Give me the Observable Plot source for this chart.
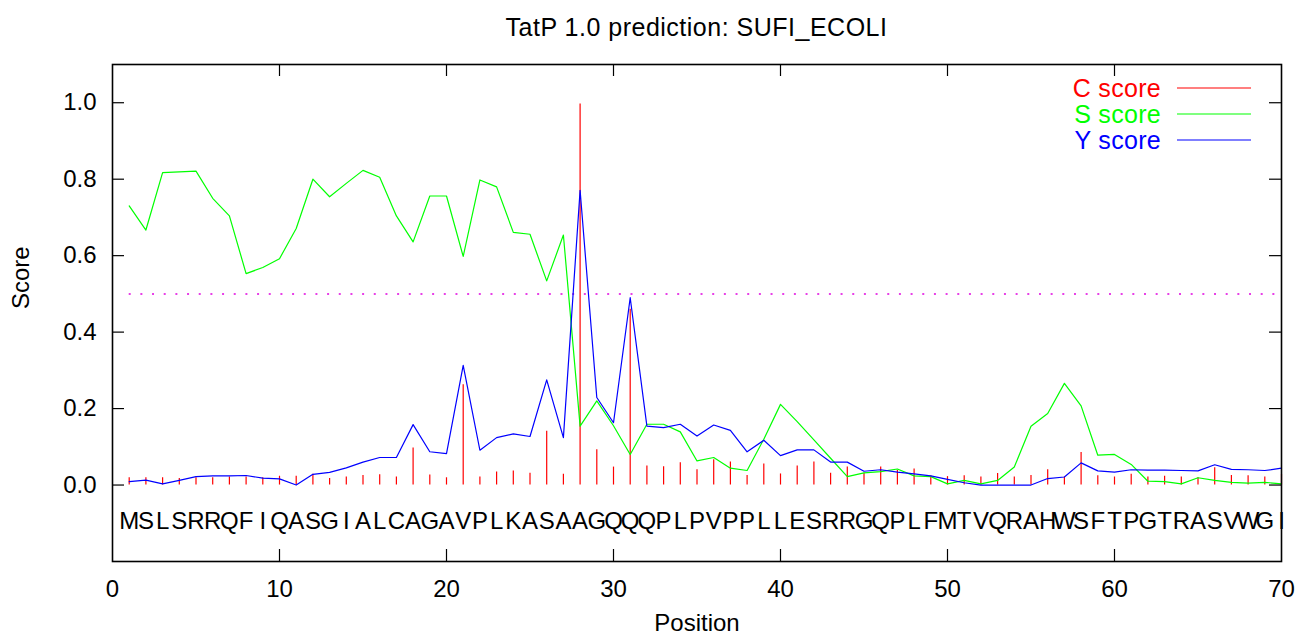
<!DOCTYPE html>
<html>
<head>
<meta charset="utf-8">
<script src="https://cdn.jsdelivr.net/npm/d3@7"></script>
<script src="https://cdn.jsdelivr.net/npm/@observablehq/plot@0.6"></script>
<style>
  body { margin: 0; background: #fff; font-family: "Liberation Sans", Arial, Helvetica, sans-serif; }
  #title { width: 1299px; height: 50px; line-height: 54px; font-size: 25px; letter-spacing: 0.5px; text-align: center;
           padding-left: 112px; padding-right: 18px; box-sizing: border-box; color: #000; overflow: hidden; }
</style>
</head>
<body>
<div id="title">TatP 1.0 prediction: SUFI_ECOLI</div>
<div id="chart"></div>
<script>
// ---- data ----
const sequence = "MSLSRRQFIQASGIALCAGAVPLKASAAGQQQPLPVPPLLESRRGQPLFMTVQRAHWSFTPGTRASVWGI".split("");
const positions = sequence.map((_, i) => i + 1);
const cScore = [
  0.019, 0.019, 0.019, 0.017, 0.019, 0.019, 0.021, 0.021, 0.019, 0.023,
  0.023, 0.028, 0.017, 0.021, 0.025, 0.027, 0.021, 0.097, 0.026, 0.019,
  0.262, 0.021, 0.034, 0.037, 0.031, 0.141, 0.028, 0.997, 0.092, 0.047,
  0.460, 0.050, 0.048, 0.058, 0.040, 0.066, 0.060, 0.025, 0.055, 0.029,
  0.050, 0.060, 0.031, 0.047, 0.031, 0.047, 0.038, 0.042, 0.024, 0.022,
  0.024, 0.021, 0.030, 0.021, 0.025, 0.040, 0.021, 0.085, 0.024, 0.021,
  0.028, 0.021, 0.023, 0.021, 0.019, 0.045, 0.025, 0.024, 0.021, 0.028
];
const sScore = [
  0.730, 0.667, 0.817, 0.819, 0.821, 0.750, 0.704, 0.553, 0.569, 0.592,
  0.671, 0.800, 0.754, 0.789, 0.823, 0.805, 0.704, 0.636, 0.756, 0.756,
  0.598, 0.798, 0.780, 0.661, 0.656, 0.534, 0.654, 0.154, 0.220, 0.155,
  0.080, 0.159, 0.159, 0.139, 0.063, 0.072, 0.044, 0.038, 0.120, 0.211,
  0.166, 0.118, 0.070, 0.022, 0.032, 0.035, 0.042, 0.024, 0.022, 0.003,
  0.012, 0.003, 0.012, 0.047, 0.154, 0.187, 0.266, 0.207, 0.078, 0.080,
  0.054, 0.010, 0.009, 0.003, 0.019, 0.012, 0.007, 0.005, 0.007, 0.003
];
const yScore = [
  0.009, 0.013, 0.003, 0.012, 0.022, 0.024, 0.024, 0.025, 0.018, 0.016,
  0.000, 0.028, 0.033, 0.045, 0.060, 0.072, 0.072, 0.158, 0.087, 0.082,
  0.313, 0.091, 0.124, 0.134, 0.127, 0.275, 0.124, 0.771, 0.229, 0.163,
  0.490, 0.154, 0.150, 0.159, 0.128, 0.157, 0.143, 0.087, 0.117, 0.077,
  0.092, 0.092, 0.060, 0.060, 0.036, 0.040, 0.034, 0.029, 0.024, 0.015,
  0.006, 0.000, 0.000, 0.000, 0.000, 0.017, 0.021, 0.058, 0.037, 0.034,
  0.040, 0.039, 0.039, 0.038, 0.037, 0.053, 0.041, 0.040, 0.038, 0.044
];
const xTicks = [0, 10, 20, 30, 40, 50, 60, 70];
const yTicks = [0.0, 0.2, 0.4, 0.6, 0.8, 1.0];
const cutoff = 0.5;
const seriesNames = ["C score", "S score", "Y score"];
const seriesColors = ["#ff0000", "#00ff00", "#0000ff"];

// ---- layout ----
const W = 1299, H = 584;
const mL = 112, mR = 18, mT = 14, mB = 73;
const innerW = W - mL - mR, innerH = H - mT - mB;
const tickLen = 12;

const rows = positions.map((p, i) => ({pos: p, c: cScore[i], s: sScore[i], y: yScore[i], aa: sequence[i]}));
const inner = xTicks.slice(1, -1);

const chart = Plot.plot({
  width: W, height: H,
  marginLeft: mL, marginRight: mR, marginTop: mT, marginBottom: mB,
  style: {fontSize: "24px", fontFamily: "'Liberation Sans', Arial, Helvetica, sans-serif", background: "white", color: "black", overflow: "visible"},
  x: {domain: [0, 70]},
  y: {domain: [-0.2, 1.1]},
  marks: [
    // threshold
    Plot.ruleY([cutoff], {x1: positions[0], x2: positions[positions.length - 1], stroke: "#e000e0", strokeWidth: 1.5, strokeDasharray: "2,9.67"}),
    // C score impulses
    Plot.ruleX(rows, {x: "pos", y1: 0, y2: "c", stroke: seriesColors[0], strokeWidth: 1.2}),
    Plot.line(rows, {x: "pos", y: "s", stroke: seriesColors[1], strokeWidth: 1.2}),
    Plot.line(rows, {x: "pos", y: "y", stroke: seriesColors[2], strokeWidth: 1.2}),
    // sequence letters
    Plot.text(rows, {x: "pos", text: "aa", frameAnchor: "bottom", dy: -33, fontSize: 24, fill: "black"}),
    // inward ticks
    Plot.ruleX(inner, {x: d => d, insetTop: innerH - tickLen, stroke: "black", strokeWidth: 1.2}),
    Plot.ruleX(inner, {x: d => d, insetBottom: innerH - tickLen, stroke: "black", strokeWidth: 1.2}),
    Plot.ruleY(yTicks, {y: d => d, insetRight: innerW - tickLen, stroke: "black", strokeWidth: 1.2}),
    Plot.ruleY(yTicks, {y: d => d, insetLeft: innerW - tickLen, stroke: "black", strokeWidth: 1.2}),
    // axes labels
    Plot.axisX(xTicks, {anchor: "bottom", tickSize: 0, tickPadding: 18, label: null, tickFormat: d3.format("d")}),
    Plot.axisY(yTicks, {anchor: "left", tickSize: 0, tickPadding: 16, label: null, tickFormat: d3.format(".1f")}),
    Plot.text(["Position"], {frameAnchor: "bottom", dy: 69, fontSize: 24}),
    Plot.text(["Score"], {frameAnchor: "left", dx: -91, dy: -4, rotate: -90, fontSize: 24}),
    Plot.frame({stroke: "black", strokeWidth: 1.6})
  ]
});
document.getElementById("chart").appendChild(chart);

// ---- legend ----
const svg = d3.select(chart);
const lg = svg.append("g");
seriesNames.forEach((name, i) => {
  const cy = 38 + i * 26;
  lg.append("text").attr("x", 1161).attr("y", cy).attr("dy", "0.35em")
    .attr("text-anchor", "end").attr("fill", seriesColors[i])
    .style("font-size", "25px").style("letter-spacing", "0.3px").text(name);
  lg.append("line").attr("x1", 1177).attr("x2", 1251).attr("y1", cy).attr("y2", cy)
    .attr("stroke", seriesColors[i]).attr("stroke-width", 1.2);
});
</script>
</body>
</html>
